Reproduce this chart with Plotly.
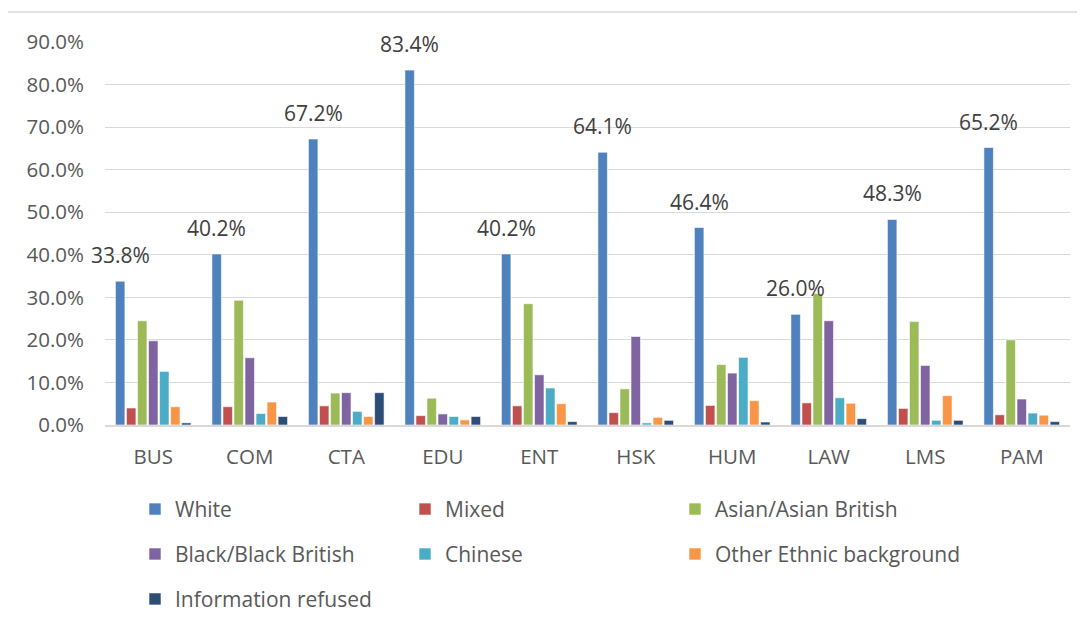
import plotly.graph_objects as go

categories = ["BUS", "COM", "CTA", "EDU", "ENT", "HSK", "HUM", "LAW", "LMS", "PAM"]

white = [33.8, 40.2, 67.2, 83.4, 40.2, 64.1, 46.4, 26.0, 48.3, 65.2]
mixed = [4.0, 4.3, 4.5, 2.2, 4.5, 2.9, 4.6, 5.2, 3.9, 2.4]
asian = [24.5, 29.3, 7.5, 6.3, 28.5, 8.5, 14.2, 30.9, 24.3, 20.0]
black = [19.8, 15.8, 7.6, 2.6, 11.8, 20.8, 12.2, 24.5, 14.0, 6.1]
chinese = [12.6, 2.7, 3.2, 2.0, 8.7, 0.5, 15.9, 6.4, 1.1, 2.8]
other = [4.3, 5.4, 2.0, 1.2, 5.0, 1.8, 5.7, 5.1, 6.9, 2.3]
refused = [0.5, 2.0, 7.6, 2.0, 0.8, 1.1, 0.7, 1.5, 1.1, 0.8]

series_names = ["White", "Mixed", "Asian/Asian British", "Black/Black British",
                "Chinese", "Other Ethnic background", "Information refused"]
series_values = [white, mixed, asian, black, chinese, other, refused]
colors = ["#4F81BD", "#C0504D", "#9BBB59", "#8064A2", "#4BACC6", "#F79646", "#2C4D75"]

FONT = "Open Sans"
BARGAP = 0.2

# page body has an 8px offset in the browser
OFF = 8
W, H = 1085 - OFF, 625 - OFF
ml, mr, mt, mb = 105 - OFF, 15, 42 - OFF, 199.5
pw = W - ml - mr
ph = H - mt - mb


def px_x(X):
    return (X - OFF - ml) / pw


def px_y(Y):
    return (OFF + mt + ph - Y) / ph


# legend grid: 3 columns x 3 rows, filled row by row
col_x = [135, 405, 675]
row_y = [510, 555, 600]

fig = go.Figure()
legend_layout = {}
for i, (name, vals, col) in enumerate(zip(series_names, series_values, colors)):
    key = "legend" if i == 0 else f"legend{i + 1}"
    fig.add_trace(go.Bar(
        x=categories, y=[v / 100 for v in vals], name=name, legend=key,
        marker=dict(color=col, line=dict(color="white", width=0.6))))
    legend_layout[key] = dict(
        orientation="h", xanchor="left", yanchor="middle",
        x=px_x(col_x[i % 3]), y=px_y(row_y[i // 3]),
        font=dict(family=FONT, size=21, color="#595959"),
        bgcolor="rgba(0,0,0,0)")

# data labels for the White series (first bar of each group)
nser = len(series_names)
group_w = 1 - BARGAP
first_offset = -group_w / 2 + group_w / nser / 2
for idx, v in enumerate(white):
    fig.add_annotation(x=idx + first_offset, y=v / 100, xref="x", yref="y",
                       text=f"{v:.1f}%", showarrow=False,
                       xanchor="center", yanchor="bottom", yshift=10,
                       font=dict(family=FONT, size=21, color="#404040"))

fig.update_layout(
    width=W, height=H,
    margin=dict(l=ml, r=mr, t=mt, b=mb, autoexpand=False),
    barmode="group", bargap=BARGAP, bargroupgap=0.14,
    paper_bgcolor="white", plot_bgcolor="white",
    font=dict(family=FONT, size=20.5, color="#595959"),
    showlegend=True,
    **legend_layout,
)
fig.update_yaxes(range=[0, 0.9], tickformat=".1%", dtick=0.1,
                 showgrid=True, gridcolor="#D9D9D9", gridwidth=1,
                 zeroline=False, showline=False, ticks="",
                 ticklabelstandoff=20,
                 tickfont=dict(family=FONT, size=20.5, color="#595959"))
fig.update_xaxes(type="category", categoryorder="array", categoryarray=categories,
                 range=[-0.5, len(categories) - 0.5], autorange=False,
                 showline=True, linecolor="#D9D9D9", linewidth=1.5,
                 ticks="", ticklabelstandoff=13,
                 tickfont=dict(family=FONT, size=20.5, color="#595959"))

# outer chart border
fig.add_shape(type="rect", xref="paper", yref="paper",
              x0=px_x(7), x1=px_x(1100), y0=px_y(640), y1=px_y(12),
              line=dict(color="#D9D9D9", width=1.5), fillcolor="rgba(0,0,0,0)",
              layer="below")

fig.write_html("out.html")
